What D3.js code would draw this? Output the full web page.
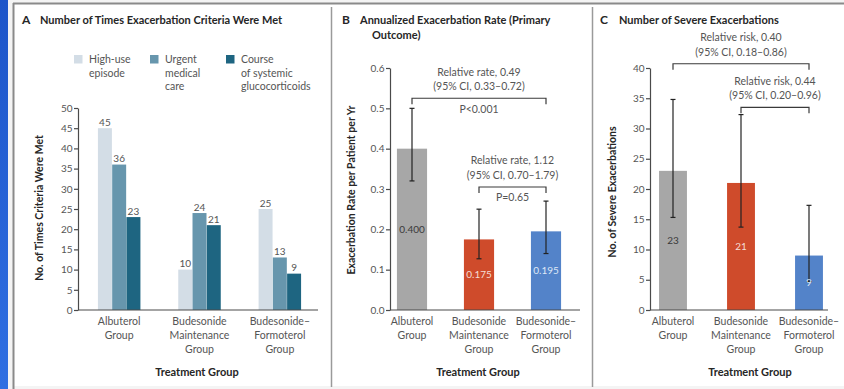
<!DOCTYPE html>
<html>
<head>
<meta charset="utf-8">
<script src="https://cdn.jsdelivr.net/npm/d3@7/dist/d3.min.js"></script>
<style>
  html, body { margin: 0; padding: 0; background: #ffffff; }
  svg { display: block; font-family: Lato, "Open Sans", "DejaVu Sans", sans-serif; }
</style>
</head>
<body>
<svg id="fig" width="844" height="389"></svg>
<script>
// ---- data -------------------------------------------------------------
const groups = ["Albuterol Group", "Budesonide Maintenance Group", "Budesonide–Formoterol Group"];
const groupLabelLines = [["Albuterol", "Group"], ["Budesonide", "Maintenance", "Group"], ["Budesonide–", "Formoterol", "Group"]];

// Panel A: number of times each exacerbation criterion was met
const criteria = ["High-use episode", "Urgent medical care", "Course of systemic glucocorticoids"];
const criteriaLegendLines = [["High-use", "episode"], ["Urgent", "medical", "care"], ["Course", "of systemic", "glucocorticoids"]];
const highUseEpisode = [45, 10, 25];
const urgentMedicalCare = [36, 24, 13];
const systemicGlucocorticoids = [23, 21, 9];
const ticksA = [0, 5, 10, 15, 20, 25, 30, 35, 40, 45, 50];

// Panel B: annualized exacerbation rate with 95% CI
const rate = [0.400, 0.175, 0.195];
const rateLow = [0.32, 0.127, 0.14];
const rateHigh = [0.50, 0.25, 0.27];
const rateLabels = ["0.400", "0.175", "0.195"];
const ticksB = [0.0, 0.1, 0.2, 0.3, 0.4, 0.5, 0.6];
const rateComparisons = [
  { from: 0, to: 2, text: ["Relative rate, 0.49", "(95% CI, 0.33–0.72)"], p: "P<0.001", level: 0.525 },
  { from: 1, to: 2, text: ["Relative rate, 1.12", "(95% CI, 0.70–1.79)"], p: "P=0.65", level: 0.305 }
];

// Panel C: number of severe exacerbations with 95% CI
const severe = [23, 21, 9];
const severeLow = [15.3, 13.7, 4.7];
const severeHigh = [34.8, 32.3, 17.3];
const ticksC = [0, 5, 10, 15, 20, 25, 30, 35, 40];
const severeComparisons = [
  { from: 0, to: 2, text: ["Relative risk, 0.40", "(95% CI, 0.18–0.86)"], level: 40.7 },
  { from: 1, to: 2, text: ["Relative risk, 0.44", "(95% CI, 0.20–0.96)"], level: 33.5 }
];

const treatmentColors = ["#a7a7a7", "#cf4b2b", "#5383c9"];
const treatmentLabelColors = ["#3a3a3a", "#f4ddd6", "#dfe8f6"];
const criteriaColors = ["#d3dde6", "#6796ad", "#1e6581"];

// ---- drawing -----------------------------------------------------------
const svg = d3.select("#fig");
const TEXT = "#555555", DARK = "#262626", AXIS = "#4a4a4a";

// frame: side strip, outer border and panel dividers
const grad = svg.append("defs").append("linearGradient")
  .attr("id", "strip").attr("x1", 0).attr("y1", 0).attr("x2", 0).attr("y2", 1);
grad.append("stop").attr("offset", "0%").attr("stop-color", "#1d55c9");
grad.append("stop").attr("offset", "100%").attr("stop-color", "#2f6fe2");
svg.append("rect").attr("x", 0).attr("y", 0).attr("width", 844).attr("height", 389).attr("fill", "#f4f4f4");
svg.append("rect").attr("x", 14).attr("y", 4).attr("width", 830).attr("height", 382).attr("fill", "#ffffff");
svg.append("rect").attr("x", 0).attr("y", 0).attr("width", 8).attr("height", 389).attr("fill", "url(#strip)");
svg.append("line").attr("x1", 13).attr("x2", 844).attr("y1", 3.5).attr("y2", 3.5).attr("stroke", "#8a8a8a").attr("stroke-width", 2);
svg.append("line").attr("x1", 13.5).attr("x2", 13.5).attr("y1", 3).attr("y2", 389).attr("stroke", "#8a8a8a").attr("stroke-width", 2);
[331.5, 592.5].forEach(x => svg.append("line").attr("x1", x).attr("x2", x).attr("y1", 7).attr("y2", 387)
  .attr("stroke", "#9a9a9a").attr("stroke-width", 1.5));

function panelTitle(letter, x, lines, textX, y, indent) {
  svg.append("text").attr("x", x).attr("y", y).attr("font-size", 12).attr("font-weight", 700)
    .attr("fill", DARK).text(letter);
  lines.forEach((t, i) => svg.append("text").attr("x", textX + (i ? indent : 0)).attr("y", y + i * 14.5)
    .attr("font-size", 11).attr("font-weight", 700).attr("fill", DARK).text(t));
}

function yAxis(scale, x, ticks, fmt) {
  const g = svg.append("g").attr("transform", `translate(${x},0)`)
    .call(d3.axisLeft(scale).tickValues(ticks).tickFormat(fmt).tickSize(4).tickSizeOuter(0).tickPadding(1.5));
  g.select(".domain").attr("stroke", AXIS).attr("stroke-width", 1.2);
  g.selectAll(".tick line").attr("stroke", AXIS).attr("stroke-width", 1.2);
  g.selectAll(".tick text").attr("fill", TEXT).attr("font-size", 10).attr("font-family", "Lato, sans-serif");
  return g;
}

function xBaseline(x0, x1, y) {
  svg.append("line").attr("x1", x0).attr("x2", x1).attr("y1", y).attr("y2", y)
    .attr("stroke", AXIS).attr("stroke-width", 1.2);
}

function groupLabels(xCenter, yTop) {
  groupLabelLines.forEach((lines, i) => {
    lines.forEach((t, j) => svg.append("text").attr("x", xCenter(groups[i])).attr("y", yTop + j * 14)
      .attr("text-anchor", "middle").attr("font-size", 10.5).attr("fill", TEXT).text(t));
  });
}

function axisTitles(yTitle, yx, yy, xTitle, xx) {
  svg.append("text").attr("transform", `translate(${yx},${yy}) rotate(-90)`).attr("text-anchor", "middle")
    .attr("font-size", 10.5).attr("font-weight", 700).attr("fill", DARK).text(yTitle);
  svg.append("text").attr("x", xx).attr("y", 376).attr("text-anchor", "middle")
    .attr("font-size", 11).attr("font-weight", 700).attr("fill", DARK).text(xTitle);
}

// ---- Panel A ----
panelTitle("A", 22, ["Number of Times Exacerbation Criteria Were Met"], 40, 24, 0);

const yA = d3.scaleLinear().domain([0, 50]).range([310, 108]);
const xA = d3.scaleBand().domain(groups).range([79, 320]);
const xSubA = d3.scaleBand().domain(criteria).range([0, 42.5]).paddingInner(0.02);
const seriesA = [highUseEpisode, urgentMedicalCare, systemicGlucocorticoids];

// legend
const legendX = d3.scalePoint().domain(criteria).range([74, 226]);
criteria.forEach((c, k) => {
  svg.append("rect").attr("x", legendX(c)).attr("y", 55).attr("width", 8.5).attr("height", 8.5).attr("fill", criteriaColors[k]);
  criteriaLegendLines[k].forEach((t, j) => svg.append("text").attr("x", legendX(c) + 15).attr("y", 63 + j * 13.5)
    .attr("font-size", 10.5).attr("fill", TEXT).text(t));
});

groups.forEach((g, i) => {
  const gx = xA(g) + xA.bandwidth() / 2 - 21.25;
  criteria.forEach((c, k) => {
    const v = seriesA[k][i];
    svg.append("rect").attr("x", gx + xSubA(c)).attr("y", yA(v)).attr("width", xSubA.bandwidth())
      .attr("height", yA(0) - yA(v)).attr("fill", criteriaColors[k]);
    svg.append("text").attr("x", gx + xSubA(c) + xSubA.bandwidth() / 2).attr("y", yA(v) - 2.5)
      .attr("text-anchor", "middle").attr("font-size", 10).attr("fill", TEXT).text(v);
  });
});
yAxis(yA, 78, ticksA, d3.format("d"));
xBaseline(78, 318, yA(0));
groupLabels(g => xA(g) + xA.bandwidth() / 2, 325);
axisTitles("No. of Times Criteria Were Met", 43, 208, "Treatment Group", 197);

// ---- bars with CI, shared by panels B and C ----
function ciPanel(opts) {
  const { x, y, values, low, high, labels } = opts;
  groups.forEach((g, i) => {
    const v = values[i];
    svg.append("rect").attr("x", x(g)).attr("y", y(v)).attr("width", x.bandwidth())
      .attr("height", y(0) - y(v)).attr("fill", treatmentColors[i]);
  });
  groups.forEach((g, i) => {
    const cx = x(g) + x.bandwidth() / 2;
    svg.append("line").attr("x1", cx).attr("x2", cx).attr("y1", y(low[i])).attr("y2", y(high[i]))
      .attr("stroke", "#222").attr("stroke-width", 1.2);
    [low[i], high[i]].forEach(e => svg.append("line").attr("x1", cx - 2.5).attr("x2", cx + 2.5)
      .attr("y1", y(e)).attr("y2", y(e)).attr("stroke", "#222").attr("stroke-width", 1.2));
    svg.append("text").attr("x", cx).attr("y", (y(values[i]) + y(0)) / 2 + 3.5)
      .attr("text-anchor", "middle").attr("font-size", 10).attr("fill", treatmentLabelColors[i]).text(labels[i]);
  });
}

function bracket(x, y, cmp, pLabel) {
  const x0 = x(groups[cmp.from]) + x.bandwidth() / 2;
  const x1 = x(groups[cmp.to]) + x.bandwidth() / 2;
  const yb = y(cmp.level);
  svg.append("path").attr("d", `M${x0},${yb + 6}V${yb}H${x1}V${yb + 6}`)
    .attr("fill", "none").attr("stroke", "#3a3a3a").attr("stroke-width", 1.2);
  const mid = (x0 + x1) / 2;
  cmp.text.forEach((t, j) => svg.append("text").attr("x", mid).attr("y", yb - 22.5 + j * 14.5)
    .attr("text-anchor", "middle").attr("font-size", 10.5).attr("fill", TEXT).text(t));
  if (pLabel) svg.append("text").attr("x", mid).attr("y", yb + 14.5)
    .attr("text-anchor", "middle").attr("font-size", 10.5).attr("fill", TEXT).text(pLabel);
}

// ---- Panel B ----
panelTitle("B", 342, ["Annualized Exacerbation Rate (Primary", "Outcome)"], 360, 24, 12);
const yB = d3.scaleLinear().domain([0, 0.6]).range([310, 68]);
const xB = d3.scaleBand().domain(groups).range([378.5, 579.5]).paddingInner(0.55).paddingOuter(0.275);
ciPanel({ x: xB, y: yB, values: rate, low: rateLow, high: rateHigh, labels: rateLabels });
rateComparisons.forEach(c => bracket(xB, yB, c, c.p));
yAxis(yB, 390, ticksB, d3.format(".1f"));
xBaseline(390, 580, yB(0));
groupLabels(g => xB(g) + xB.bandwidth() / 2, 325);
axisTitles("Exacerbation Rate per Patient per Yr", 355, 190, "Treatment Group", 478);

// ---- Panel C ----
panelTitle("C", 600, ["Number of Severe Exacerbations"], 619, 24, 0);
const yC = d3.scaleLinear().domain([0, 40]).range([310, 68]);
const xC = d3.scaleBand().domain(groups).range([639, 843]).paddingInner(0.59).paddingOuter(0.295);
ciPanel({ x: xC, y: yC, values: severe, low: severeLow, high: severeHigh, labels: severe.map(String) });
severeComparisons.forEach(c => bracket(xC, yC, c, null));
yAxis(yC, 650, ticksC, d3.format("d"));
xBaseline(650, 828, yC(0));
groupLabels(g => xC(g) + xC.bandwidth() / 2, 325);
axisTitles("No. of Severe Exacerbations", 616, 192, "Treatment Group", 750);
</script>
</body>
</html>
